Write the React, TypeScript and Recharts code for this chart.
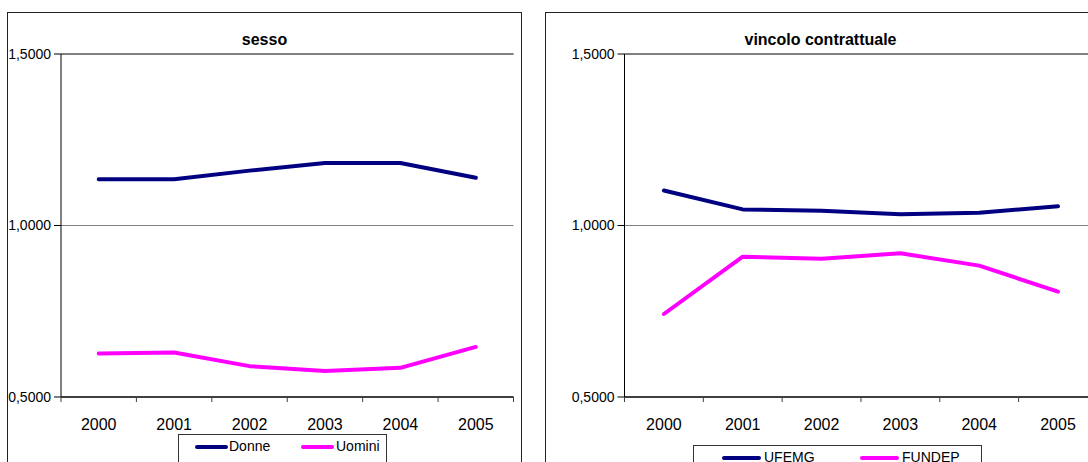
import { CartesianGrid, Line, LineChart, ReferenceLine, XAxis, YAxis } from 'recharts'

const years = ['2000', '2001', '2002', '2003', '2004', '2005']
const donne = [1.135, 1.135, 1.16, 1.182, 1.182, 1.139]
const uomini = [0.627, 0.63, 0.59, 0.576, 0.585, 0.646]
const ufmg = [1.102, 1.047, 1.043, 1.033, 1.037, 1.056]
const fundep = [0.742, 0.909, 0.903, 0.919, 0.883, 0.807]
const yTicks = [0.5, 1.0, 1.5]

const NAVY = '#000080'
const MAGENTA = '#FF00FF'
const FONT = '"Liberation Sans", Arial, sans-serif'

interface Series {
  name: string
  color: string
  values: number[]
}

interface PanelProps {
  left: number
  width: number
  plotLeft: number
  plotRight: number
  title: string
  boxWidth: number
  series: Series[]
  legend: { left: number; top: number; width: number; items: { swatch: number; swatchWidth: number; text: number }[] }
}

const fmt = (v: number) => v.toFixed(4).replace('.', ',')

const PLOT_TOP = 54
const PLOT_BOTTOM = 397
const HEIGHT = 462

// category label plus tick marks on the band edges
function YearTick(props: any) {
  const { x, y, payload, index, band } = props
  const last = index === years.length - 1
  return (
    <g>
      <line x1={x - band / 2} x2={x - band / 2} y1={y} y2={y + 5} stroke='#404040' strokeWidth={1} />
      {last && <line x1={x + band / 2} x2={x + band / 2} y1={y} y2={y + 5} stroke='#404040' strokeWidth={1} />}
      <text x={x} y={y + 33} textAnchor='middle' fontSize={16} fontFamily={FONT} fill='#000'>
        {payload.value}
      </text>
    </g>
  )
}

function Panel({ left, width, plotLeft, plotRight, title, boxWidth, series, legend }: PanelProps) {
  const data = years.map((year, i) => {
    const row: Record<string, string | number> = { year }
    series.forEach((s) => {
      row[s.name] = s.values[i]
    })
    return row
  })
  const band = (plotRight - plotLeft) / years.length
  const xAxisHeight = 30

  return (
    <>
      <div
        style={{
          position: 'absolute',
          left: left + 7,
          top: 12,
          width: boxWidth,
          height: 470,
          border: '1.5px solid #222',
          boxSizing: 'border-box',
        }}
      />
      <div
        style={{
          position: 'absolute',
          left: left + 7,
          top: 31,
          width: boxWidth,
          textAlign: 'center',
          fontFamily: FONT,
          fontWeight: 'bold',
          fontSize: 16,
          lineHeight: '18px',
          color: '#000',
        }}
      >
        {title}
      </div>
      <div style={{ position: 'absolute', left, top: 0 }}>
        <LineChart
          width={width}
          height={HEIGHT}
          data={data}
          margin={{
            top: PLOT_TOP,
            right: width - plotRight,
            left: 0,
            bottom: HEIGHT - PLOT_BOTTOM - xAxisHeight,
          }}
        >
          <CartesianGrid horizontal vertical={false} stroke='#808080' />
          <ReferenceLine y={1.5} stroke='#808080' strokeWidth={2} />
          <XAxis
            dataKey='year'
            scale='band'
            height={xAxisHeight}
            stroke='#404040'
            strokeWidth={2}
            tickLine={false}
            tickSize={0}
            tickMargin={0}
            interval={0}
            tick={(p: any) => <YearTick {...p} band={band} />}
          />
          <YAxis
            width={plotLeft}
            domain={[0.5, 1.5]}
            ticks={yTicks}
            tickFormatter={fmt}
            stroke='#000'
            tickSize={7}
            tickMargin={3}
            tick={{ fill: '#000', fontSize: 14, fontFamily: FONT }}
          />
          <YAxis yAxisId='edge' orientation='right' width={0} tick={false} tickLine={false} stroke='#808080' strokeWidth={2} />
          {series.map((s) => (
            <Line
              key={s.name}
              dataKey={s.name}
              stroke={s.color}
              strokeWidth={4}
              dot={false}
              type='linear'
              strokeLinecap='round'
              strokeLinejoin='round'
              isAnimationActive={false}
            />
          ))}
        </LineChart>
      </div>
      <div
        style={{
          position: 'absolute',
          left: left + legend.left,
          top: legend.top,
          width: legend.width,
          height: 40,
          border: '1px solid #333',
          boxSizing: 'border-box',
          fontFamily: FONT,
          fontSize: 14,
          color: '#000',
        }}
      >
        {series.map((s, i) => (
          <div key={s.name}>
            <div
              style={{
                position: 'absolute',
                left: legend.items[i].swatch,
                top: 10,
                width: legend.items[i].swatchWidth,
                height: 4,
                borderRadius: 2,
                background: s.color,
              }}
            />
            <div style={{ position: 'absolute', left: legend.items[i].text, top: 3, lineHeight: '16px' }}>{s.name}</div>
          </div>
        ))}
      </div>
    </>
  )
}

export default function App() {
  return (
    <div
      style={{
        position: 'absolute',
        left: 0,
        top: 0,
        width: 1088,
        height: HEIGHT,
        overflow: 'hidden',
        background: '#fff',
      }}
    >
      <Panel
        left={0}
        width={544}
        plotLeft={61}
        plotRight={513.5}
        title='sesso'
        boxWidth={515}
        series={[
          { name: 'Donne', color: NAVY, values: donne },
          { name: 'Uomini', color: MAGENTA, values: uomini },
        ]}
        legend={{
          left: 178,
          top: 434,
          width: 209,
          items: [
            { swatch: 16, swatchWidth: 33, text: 50 },
            { swatch: 122, swatchWidth: 33, text: 157 },
          ],
        }}
      />
      <Panel
        left={538}
        width={566}
        plotLeft={86.5}
        plotRight={559.4}
        title='vincolo contrattuale'
        boxWidth={551}
        series={[
          { name: 'UFEMG', color: NAVY, values: ufmg },
          { name: 'FUNDEP', color: MAGENTA, values: fundep },
        ]}
        legend={{
          left: 155,
          top: 445,
          width: 289,
          items: [
            { swatch: 28, swatchWidth: 39, text: 70 },
            { swatch: 166, swatchWidth: 39, text: 208 },
          ],
        }}
      />
    </div>
  )
}
